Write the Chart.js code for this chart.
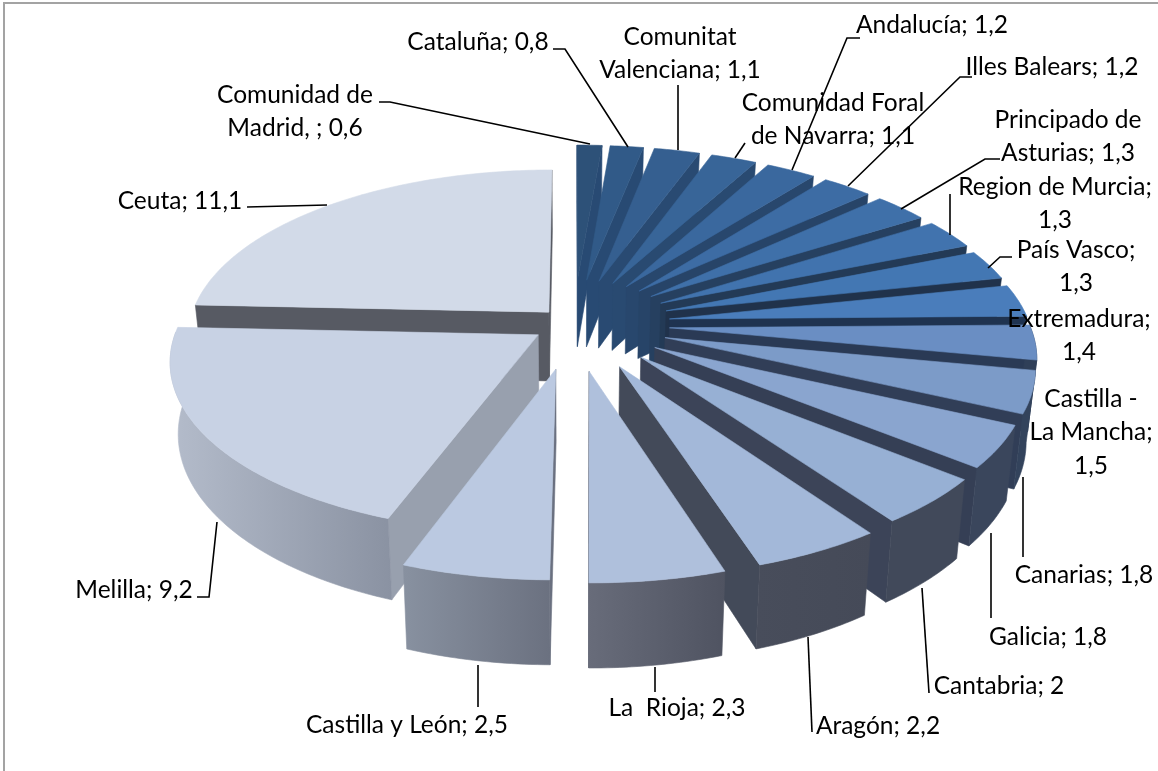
<!DOCTYPE html>
<html>
<head>
<meta charset="utf-8">
<style>
  html, body { margin: 0; padding: 0; background: #fff; }
  #wrap { position: relative; width: 1158px; height: 771px; overflow: hidden; }
  #frame { position: absolute; left: 3px; top: 2px; width: 1200px; height: 800px; border: 2px solid #a3a3a3; }
  canvas { position: absolute; left: 0; top: 0; }
</style>
<script src="https://cdn.jsdelivr.net/npm/chart.js@4"></script>
</head>
<body>
<div id="wrap"><div id="frame"></div><canvas id="c" width="1158" height="771"></canvas></div>
<script>
const categories = ['Comunidad de Madrid, ', 'Cataluña', 'Comunitat Valenciana', 'Comunidad Foral de Navarra', 'Andalucía', 'Illes Balears', 'Principado de Asturias', 'Region de Murcia', 'País Vasco', 'Extremadura', 'Castilla - La Mancha', 'Canarias', 'Galicia', 'Cantabria', 'Aragón', 'La  Rioja', 'Castilla y León', 'Melilla', 'Ceuta'];
const values = [0.6, 0.8, 1.1, 1.1, 1.2, 1.2, 1.3, 1.3, 1.3, 1.4, 1.5, 1.8, 1.8, 2, 2.2, 2.3, 2.5, 9.2, 11.1];

const explode = [100, 100, 100, 100, 100, 100, 100, 100, 98, 97, 96, 95, 94, 96, 100, 100, 96, 42, 36];
const topColors = ['#2d5178', '#315a88', '#355f90', '#386598', '#3a689e', '#3d6ca4', '#3f70a9', '#4173ae', '#4377b3', '#4a7dbb', '#6a8ec3', '#7c9bc8', '#8aa5cf', '#97b0d4', '#a3b8d9', '#afc0dc', '#bbc9e1', '#c8d2e4', '#d2dae8'];
const wallColors = ['#284a73', '#284a73', '#294a72', '#294a71', '#28476d', '#274468', '#264060', '#233a56', '#20324b', '#1f3350', '#2a3a55', '#313e57', '#353f55', '#3c4458', '#434a59', '#4a4f5e', '#6a7080', '#98a0ae', '#575a63'];
const rimLeft = ['#284a73', '#284a73', '#294a72', '#294a71', '#28476d', '#274468', '#264060', '#233a56', '#20324b', '#2b3d58', '#2f3f58', '#33435c', '#3a465c', '#41495a', '#484d5b', '#686c7a', '#8891a0', '#b4bccb', '#575a63'];
const rimRight = ['#284a73', '#284a73', '#294a72', '#294a71', '#28476d', '#274468', '#264060', '#233a56', '#20324b', '#2b3d58', '#2f3f58', '#33435c', '#3a465c', '#41495a', '#454a58', '#4f5361', '#6b7180', '#8a92a2', '#575a63'];

const labelLines = [['Comunidad de', 'Madrid, ; 0,6'], ['Cataluña; 0,8'], ['Comunitat', 'Valenciana; 1,1'], ['Comunidad Foral', 'de Navarra; 1,1'], ['Andalucía; 1,2'], ['Illes Balears; 1,2'], ['Principado de', 'Asturias; 1,3'], ['Region de Murcia;', '1,3'], ['País Vasco;', '1,3'], ['Extremadura;', '1,4'], ['Castilla -', 'La Mancha;', '1,5'], ['Canarias; 1,8'], ['Galicia; 1,8'], ['Cantabria; 2'], ['Aragón; 2,2'], ['La  Rioja; 2,3'], ['Castilla y León; 2,5'], ['Melilla; 9,2'], ['Ceuta; 11,1']];
// centre x / y du premier texte pour chaque etiquette
const labelX = [295, 478, 680, 833, 932, 1052, 1068, 1055, 1076, 1079, 1091, 1084, 1048, 999, 878, 677, 407, 134, 180];
const labelY = [95, 42, 37, 103, 25, 67, 120, 187, 250, 319, 399, 575, 637, 686, 726, 708, 725, 590, 201];
const leaders = [
  [[379, 102], [390, 102], [590, 144]],
  [[553, 49], [565, 49], [628, 147]],
  [[678, 85], [678, 150]],
  [[745, 143], [735, 158]],
  [[860, 38], [847, 38], [792, 170]],
  [[972, 77], [960, 77], [848, 186]],
  [[1000, 159], [985, 159], [901, 209]],
  [[950, 194], [950, 235]],
  [[1012, 257], [1000, 257], [988, 268]],
  [], [],
  [[1023, 477], [1023, 557]],
  [[991, 533], [991, 618]],
  [[922, 588], [929, 693]],
  [[808, 637], [812, 732]],
  [[655, 667], [655, 692]],
  [[478, 665], [478, 707]],
  [[217, 522], [209, 597], [197, 597]],
  [[247, 207], [327, 205]],
];

// projection du camembert "3D"
const CX = 573.5, CY = 324, PERSP = 0.0004, SQUASH = 0.4606, DEPTH = 69.5, BOTTOM_SHRINK = 0.02;
const project = (u, v, z) => {
  const s = 1 / (1 - PERSP * v);
  return [CX + u * s * (1 - BOTTOM_SHRINK * z), CY + SQUASH * v * s + DEPTH * s * z];
};

function polygon(ctx, pts, fill) {
  ctx.beginPath();
  pts.forEach((p, i) => (i ? ctx.lineTo(p[0], p[1]) : ctx.moveTo(p[0], p[1])));
  ctx.closePath();
  ctx.fillStyle = fill;
  ctx.strokeStyle = fill;
  ctx.lineWidth = 0.6;
  ctx.fill();
  ctx.stroke();
}

const signedArea = (pts) => pts.reduce((sum, p, i) => {
  const q = pts[(i + 1) % pts.length];
  return sum + p[0] * q[1] - q[0] * p[1];
}, 0);

function drawSlice(ctx, arc, i) {
  const { startAngle, endAngle, outerRadius } = arc.getProps(['startAngle', 'endAngle', 'outerRadius'], true);
  const mid = (startAngle + endAngle) / 2;
  const off = arc.options.offset;
  const tipU = Math.cos(mid) * off, tipV = Math.sin(mid) * off;
  const rim = [];
  const angles = [];
  const n = Math.max(3, Math.ceil((endAngle - startAngle) / 0.015));
  for (let k = 0; k <= n; k++) {
    const a = startAngle + (endAngle - startAngle) * k / n;
    angles.push(a);
    rim.push([tipU + Math.cos(a) * outerRadius, tipV + Math.sin(a) * outerRadius]);
  }
  const first = rim[0], last = rim[rim.length - 1];
  const wall = (a, b) => {
    const q = [project(a[0], a[1], 0), project(b[0], b[1], 0), project(b[0], b[1], 1), project(a[0], a[1], 1)];
    if (signedArea(q) < 0) polygon(ctx, q, wallColors[i]);
  };
  // parois radiales
  wall([tipU, tipV], first);
  wall(last, [tipU, tipV]);
  // bord exterieur, seulement la partie tournee vers nous
  const front = rim.filter((p, k) => Math.sin(angles[k]) > -0.02);
  if (front.length > 1) {
    const upper = front.map((p) => project(p[0], p[1], 0));
    const lower = front.map((p) => project(p[0], p[1], 1)).reverse();
    const xs = upper.concat(lower).map((p) => p[0]);
    const grad = ctx.createLinearGradient(Math.min(...xs), 0, Math.max(...xs), 0);
    grad.addColorStop(0, rimLeft[i]);
    grad.addColorStop(1, rimRight[i]);
    polygon(ctx, upper.concat(lower), grad);
  }
  // face du dessus
  polygon(ctx, [project(tipU, tipV, 0)].concat(rim.map((p) => project(p[0], p[1], 0))), arc.options.backgroundColor);
}

const pie3d = {
  id: 'pie3d',
  beforeDatasetDraw(chart, args) {
    const { ctx } = chart;
    const arcs = args.meta.data;
    const depthOf = (i) => {
      const a = (arcs[i].startAngle + arcs[i].endAngle) / 2;
      return Math.sin(a) * (arcs[i].options.offset + arcs[i].outerRadius * 0.6);
    };
    const order = arcs.map((a, i) => i).sort((a, b) => depthOf(a) - depthOf(b));
    ctx.save();
    order.forEach((i) => drawSlice(ctx, arcs[i], i));
    ctx.restore();
    return false;
  },
  afterDatasetsDraw(chart) {
    const { ctx } = chart;
    ctx.save();
    ctx.strokeStyle = '#000';
    ctx.lineWidth = 1.6;
    leaders.forEach((line) => {
      if (!line.length) return;
      ctx.beginPath();
      line.forEach((p, i) => (i ? ctx.lineTo(p[0], p[1]) : ctx.moveTo(p[0], p[1])));
      ctx.stroke();
    });
    ctx.fillStyle = '#000';
    ctx.font = '24.5px Lato';
    ctx.textAlign = 'center';
    ctx.textBaseline = 'middle';
    labelLines.forEach((lines, i) => {
      lines.forEach((t, k) => ctx.fillText(t, labelX[i], labelY[i] + k * 33.3));
    });
    ctx.restore();
  },
};

new Chart(document.getElementById('c'), {
  type: 'pie',
  data: {
    labels: categories,
    datasets: [{ data: values, backgroundColor: topColors, offset: explode, borderWidth: 0 }],
  },
  options: {
    responsive: false,
    animation: false,
    radius: 360,
    layout: { padding: 0 },
    plugins: { legend: { display: false }, tooltip: { enabled: false } },
  },
  plugins: [pie3d],
});
</script>
</body>
</html>
